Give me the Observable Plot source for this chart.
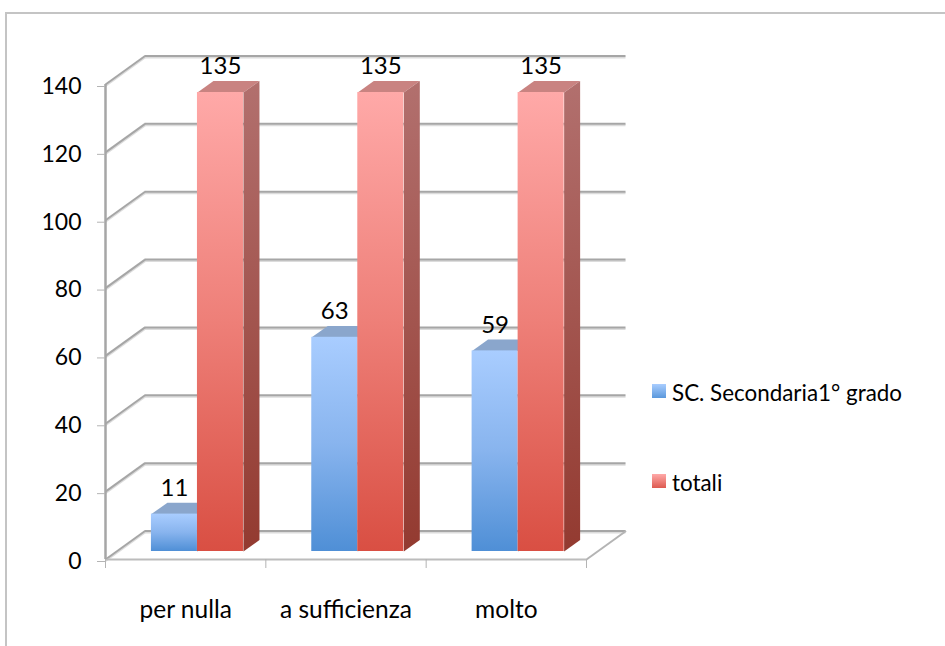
<!DOCTYPE html>
<html><head><meta charset="utf-8">
<script src="https://cdn.jsdelivr.net/npm/d3@7"></script>
<script src="https://cdn.jsdelivr.net/npm/@observablehq/plot@0.6"></script>
<style>
html,body{margin:0;padding:0;background:#fff;width:945px;height:646px;overflow:hidden}
#wrap{position:relative;width:945px;height:646px;font-family:Lato,sans-serif;color:#000}
#wrap svg{position:absolute;left:0;top:0;background:transparent}
#frame{position:absolute;left:5px;top:12px;right:0;bottom:0;border-left:2px solid #c4c4c4;border-top:2px solid #c4c4c4}
.lg{position:absolute;left:652px;display:flex;align-items:center;font-size:22.4px;line-height:20px}
.lg i{display:block;width:14px;height:14px;margin-right:6px;transform:translateY(-2px)}
</style></head><body>
<div id="wrap"><div id="frame"></div></div>
<script>
const categories = ["per nulla", "a sufficienza", "molto"];
const secondaria = [11, 63, 59];
const totali = [135, 135, 135];
const seriesNames = ["SC. Secondaria1° grado", "totali"];
const yTicks = [0, 20, 40, 60, 80, 100, 120, 140];
const xTicks = [0, 1, 2, 3];

const FONT = "Lato, sans-serif";
const GRID = "#a6a6a6", SHADOW = "#dcdcdc";
// depth of the 3-D box in data units
const wallDX = 0.2465, wallDY = 8.4;
const barDX = 0.0998, barDY = 3.35;
const barStart = 0.2865, barW = 0.287;

const margins = {marginLeft:105, marginRight:359, marginTop:84, marginBottom:87};

function grad(id, stops){
  return () => {
    const d = d3.create("svg:defs");
    const g = d.append("linearGradient").attr("id", id).attr("x1",0).attr("x2",0).attr("y1",0).attr("y2",1);
    stops.forEach(([o,c]) => g.append("stop").attr("offset",o).attr("stop-color",c));
    return d.node();
  };
}

const walls = Plot.plot({
  width:945, height:646, ...margins,
  style:{background:"transparent"},
  x:{domain:[0,3], axis:null},
  y:{domain:[0,140], axis:null},
  marks:[
    // back wall grid, shadow then line
    Plot.ruleY(yTicks,{x1:wallDX,x2:3+wallDX,y:d=>d+wallDY,stroke:SHADOW,strokeWidth:2,dy:1.5}),
    Plot.ruleY(yTicks,{x1:wallDX,x2:3+wallDX,y:d=>d+wallDY,stroke:GRID,strokeWidth:2}),
    // side wall diagonals
    Plot.link(yTicks,{x1:0,x2:wallDX,y1:d=>d,y2:d=>d+wallDY,stroke:SHADOW,strokeWidth:2,dy:1.5}),
    Plot.link(yTicks,{x1:0,x2:wallDX,y1:d=>d,y2:d=>d+wallDY,stroke:GRID,strokeWidth:2}),
    // floor
    Plot.link([3],{x1:3,x2:3+wallDX,y1:0,y2:wallDY,stroke:"#b4b4b4",strokeWidth:2}),
    Plot.ruleY([0],{x1:0,x2:3,stroke:"#bcbcbc",strokeWidth:2}),
    Plot.ruleX([0],{y1:0,y2:140,stroke:GRID,strokeWidth:2.5}),
    // axes
    Plot.axisY(yTicks,{anchor:"left",tickSize:8,tickPadding:16,stroke:"#b4b4b4",fontSize:23,fontFamily:FONT,fill:"#000",dy:2,label:null}),
    Plot.axisX(xTicks,{anchor:"bottom",tickSize:9,stroke:"#b4b4b4",tickFormat:()=>"",label:null}),
    Plot.text(categories,{x:(d,i)=>i+0.5,y:0,text:d=>d,dy:51,fontSize:24.5,fontFamily:FONT,fill:"#000"})
  ]
});

// 3-D bar faces
function faces(values, start){
  const tops=[], sides=[];
  values.forEach((v,i)=>{
    const a=i+start, b=a+barW;
    [[a,v],[a+barDX,v+barDY],[b+barDX,v+barDY],[b,v]].forEach(p=>tops.push({id:i,x:p[0],y:p[1]}));
    [[b,v],[b+barDX,v+barDY],[b+barDX,barDY],[b,0]].forEach(p=>sides.push({id:i,x:p[0],y:p[1]}));
  });
  return {tops,sides};
}
const f1=faces(secondaria,barStart), f2=faces(totali,barStart+barW);
const poly=(data,fill)=>Plot.line(data,{x:"x",y:"y",z:"id",fill,stroke:"none",curve:"linear"});
const front=(values,start,fill)=>Plot.rect(values,{x1:(d,i)=>i+start,x2:(d,i)=>i+start+barW,y1:0,y2:d=>d,fill,stroke:"none",inset:0});

const bars = Plot.plot({
  width:945, height:646, marginLeft:105, marginRight:359, marginTop:92, marginBottom:95,
  style:{background:"transparent"},
  x:{domain:[0,3], axis:null},
  y:{domain:[0,135], axis:null},
  marks:[
    grad("gBlue",[[0,"#a9cdff"],[0.5,"#88b4ee"],[1,"#4f8fd6"]]),
    grad("gRed",[[0,"#ffa9a8"],[0.5,"#ee7f78"],[1,"#d94f43"]]),
    grad("gRedSide",[[0,"#b2706e"],[1,"#933a30"]]),
    grad("gBlueSide",[[0,"#7492ba"],[1,"#3f6c9f"]]),
    poly(f1.tops,"#8aa6cc"),
    poly(f1.sides,"url(#gBlueSide)"),
    front(secondaria,barStart,"url(#gBlue)"),
    poly(f2.tops,"#c98381"),
    poly(f2.sides,"url(#gRedSide)"),
    front(totali,barStart+barW,"url(#gRed)"),
    Plot.text(secondaria,{x:(d,i)=>i+barStart+barW/2,y:d=>d,text:d=>String(d),dy:-26,fontSize:24,fontFamily:FONT,fill:"#000"}),
    Plot.text(totali,{x:(d,i)=>i+barStart+barW*1.5,y:d=>d,text:d=>String(d),dy:-26,fontSize:24,fontFamily:FONT,fill:"#000"})
  ]
});

const wrap=document.getElementById("wrap");
wrap.appendChild(walls); wrap.appendChild(bars);
const legendTops=[383,473];
const legendBg=["linear-gradient(#a9cdff,#5a98dc)","linear-gradient(#ffa9a8,#dd5a50)"];
seriesNames.forEach((n,i)=>{
  const el=document.createElement("div"); el.className="lg"; el.style.top=legendTops[i]+"px";
  const s=document.createElement("i"); s.style.background=legendBg[i]; el.appendChild(s);
  el.appendChild(document.createTextNode(n)); wrap.appendChild(el);
});
</script>
</body></html>
